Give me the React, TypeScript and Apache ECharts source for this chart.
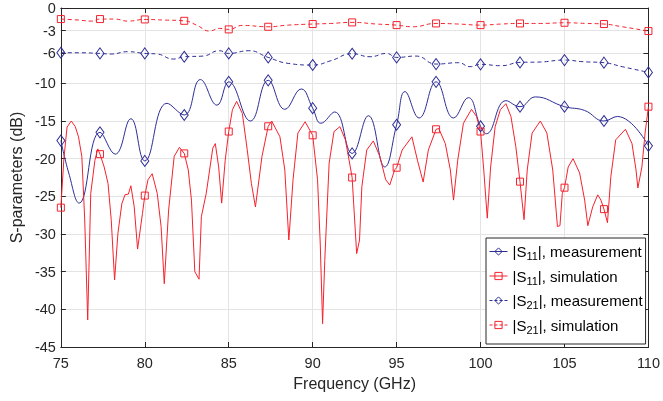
import React, { useEffect, useRef } from "react";
import * as echarts from "echarts";

const FONT = "'Liberation Sans', Arial, Helvetica, sans-serif";
const BLUE = "#2d2d96";
const RED = "#f5222d";
const AXIS = "#262626";
const GRIDC = "#e4e4e4";

const Y_TICKS = [0, -3, -6, -10, -15, -20, -25, -30, -35, -40, -45];
const MARKER_FREQS = [75, 77.33, 80, 82.35, 85, 87.35, 90, 92.35, 95, 97.35, 100, 102.35, 105, 107.35, 110];

const SERIES_NAMES = [
  "|S11|, measurement",
  "|S11|, simulation",
  "|S21|, measurement",
  "|S21|, simulation",
];

// |S11| measurement
const S11_MEAS_F = [75, 75.47, 76.09, 77.33, 78.24, 79.17, 80, 81.32, 82.35, 83.31, 84.3, 85, 86.29, 87.35, 88.34, 89.32, 90, 90.49, 91.31, 92.35, 93.32, 94.29, 95, 95.5, 96.34, 97.35, 98.39, 99.27, 100, 100.34, 101.51, 102.35, 103.27, 105, 106.2, 107.35, 108.15, 110];
const S11_MEAS_DB = [-17.6, -21.9, -25.9, -16.5, -19.4, -14.7, -20.3, -12.65, -14.2, -9.5, -12.9, -9.8, -15.0, -9.6, -13.45, -10.75, -13.3, -15.3, -13.8, -19.3, -14.3, -21.1, -15.5, -11.1, -14.6, -9.8, -14.6, -11.9, -15.7, -16.7, -12.3, -13.1, -11.8, -13.1, -13.6, -15.0, -14.4, -18.3];

// |S11| simulation
const S11_SIM_F = [75, 75.18, 75.37, 75.62, 75.86, 76.05, 76.25, 76.42, 76.6, 76.78, 77.03, 77.2, 77.33, 77.58, 77.81, 78.0, 78.2, 78.4, 78.63, 78.82, 79.02, 79.17, 79.37, 79.57, 79.86, 80, 80.19, 80.44, 80.74, 80.97, 81.16, 81.42, 81.75, 82.06, 82.35, 82.59, 82.78, 82.98, 83.23, 83.37, 83.66, 84.05, 84.2, 84.4, 84.58, 84.79, 85, 85.22, 85.47, 85.81, 86.1, 86.35, 86.59, 86.98, 87.35, 87.56, 88.05, 88.34, 88.58, 88.83, 89.12, 89.55, 90, 90.29, 90.45, 90.59, 90.72, 90.98, 91.27, 91.62, 91.95, 92.24, 92.35, 92.44, 92.62, 92.79, 92.93, 93.22, 93.61, 94.0, 94.35, 94.59, 94.88, 95, 95.33, 95.91, 96.24, 96.58, 96.89, 97.35, 97.51, 97.9, 98.2, 98.39, 98.64, 98.98, 99.46, 99.76, 100, 100.19, 100.4, 100.6, 100.87, 101.18, 101.51, 101.81, 102.1, 102.35, 102.59, 102.78, 103.07, 103.56, 103.95, 104.3, 104.58, 104.73, 104.87, 105, 105.22, 105.51, 105.9, 106.2, 106.39, 106.68, 106.98, 107.17, 107.35, 107.56, 107.76, 108.05, 108.63, 109.02, 109.26, 109.37, 109.61, 109.8, 110];
const S11_SIM_DB = [-26.5, -20.0, -15.8, -15.0, -15.75, -17.1, -19.7, -28.0, -41.4, -24.6, -20.2, -18.7, -19.4, -21.1, -23.3, -28.1, -36.1, -29.9, -26.0, -24.8, -24.7, -23.6, -26.4, -32.0, -27.3, -24.9, -22.8, -22.0, -24.6, -29.0, -36.6, -26.8, -19.7, -18.5, -19.3, -21.5, -25.5, -35.0, -36.0, -27.7, -24.6, -18.6, -18.0, -21.1, -25.9, -20.2, -16.4, -13.5, -12.4, -14.0, -18.8, -23.3, -26.4, -19.7, -15.7, -15.0, -17.1, -21.5, -30.8, -22.8, -16.6, -15.1, -16.9, -22.8, -31.2, -41.9, -33.5, -20.6, -16.4, -15.75, -17.5, -21.1, -22.5, -25.9, -32.6, -30.8, -23.7, -18.85, -17.65, -19.7, -22.8, -23.5, -21.5, -21.2, -18.85, -17.1, -20.2, -23.1, -18.85, -16.1, -16.0, -18.0, -21.5, -25.5, -20.2, -15.3, -13.45, -14.4, -16.4, -21.5, -27.9, -21.1, -15.75, -13.5, -12.7, -14.4, -18.4, -23.05, -28.1, -21.5, -16.6, -15.0, -16.6, -21.5, -29.0, -28.9, -24.6, -23.85, -21.1, -20.0, -21.9, -25.5, -28.9, -26.4, -24.8, -25.5, -26.7, -28.5, -22.4, -17.5, -16.1, -18.0, -21.5, -23.9, -21.1, -16.6, -13.1];

// |S21| measurement
const S21_MEAS_F = [75, 76.05, 77.33, 78.0, 78.98, 80, 80.74, 81.71, 82.35, 83.47, 84.44, 85, 86.2, 87.35, 88.54, 90, 91.08, 92.35, 93.42, 94.4, 95, 96.15, 97.35, 98.69, 99.37, 100, 101.22, 102.35, 103.56, 105, 106.1, 107.35, 108.44, 110];
const S21_MEAS_DB = [-5.94, -5.94, -6.03, -6.11, -5.8, -6.03, -6.11, -6.78, -6.47, -6.38, -5.67, -6.03, -5.67, -6.56, -7.35, -7.57, -7.0, -6.07, -6.47, -6.03, -6.56, -6.38, -7.44, -7.26, -7.79, -7.48, -7.66, -7.22, -7.17, -6.91, -7.13, -7.26, -7.79, -8.55];

// |S21| simulation
const S21_SIM_F = [75, 76.05, 76.83, 77.33, 78.2, 78.98, 80, 81.13, 82.35, 83.08, 83.86, 84.44, 85, 85.81, 87.35, 88.54, 90, 91.07, 92.35, 93.81, 95, 95.96, 97.35, 98.69, 100, 101.22, 102.35, 103.56, 105, 106.3, 107.35, 108.44, 110];
const S21_SIM_DB = [-1.47, -1.6, -1.74, -1.47, -1.47, -1.74, -1.52, -1.6, -1.7, -2.27, -3.06, -2.71, -2.84, -2.31, -2.49, -2.27, -2.13, -2.05, -1.91, -2.13, -2.27, -2.49, -2.05, -2.13, -2.27, -2.13, -2.05, -2.05, -1.96, -2.05, -2.13, -2.49, -3.06];

const LEGEND_RICH: Record<string, string> = {
  "|S11|, measurement": "{a||S}{sub|11}{a||, measurement}",
  "|S11|, simulation": "{a||S}{sub|11}{a||, simulation}",
  "|S21|, measurement": "{a||S}{sub|21}{a||, measurement}",
  "|S21|, simulation": "{a||S}{sub|21}{a||, simulation}",
};

const SERIES_COLORS = [BLUE, RED, BLUE, RED];
const SERIES_DASHED = [false, false, true, true];

function buildData(f: number[], v: number[]) {
  return f.map((x, i) => {
    const isMarker = MARKER_FREQS.some((m) => Math.abs(m - x) < 1e-6);
    return isMarker ? { value: [x, v[i]] } : { value: [x, v[i]], symbol: "none" };
  });
}

function makeSeries(name: string, f: number[], v: number[], color: string, symbol: string, symbolSize: any, dashed: boolean, smooth: any) {
  return {
    name,
    type: "line",
    xAxisIndex: 0,
    yAxisIndex: 0,
    data: buildData(f, v),
    smooth,
    showSymbol: true,
    showAllSymbol: true,
    symbol,
    symbolSize,
    silent: true,
    lineStyle: { color, width: 1, type: dashed ? [4, 3] : "solid" },
    itemStyle: { color: "rgba(255,255,255,0)", borderColor: color, borderWidth: 1 },
    emphasis: { disabled: true },
  };
}

export default function App() {
  const ref = useRef<HTMLDivElement>(null);
  useEffect(() => {
    if (!ref.current) return;
    const chart = echarts.init(ref.current, undefined, { renderer: "svg" });
    const axisLine = { show: true, onZero: false, lineStyle: { color: AXIS, width: 1 } };
    const option: any = {
      animation: false,
      textStyle: { fontFamily: FONT },
      grid: { left: 52, right: 13, top: 8, bottom: 54 },
      xAxis: [
        {
          type: "value", min: 75, max: 110, interval: 5, position: "bottom",
          axisLine,
          axisTick: { show: true, inside: true, length: 5, lineStyle: { color: AXIS } },
          axisLabel: { color: AXIS, fontSize: 14.5, margin: 8, fontFamily: FONT },
          splitLine: { show: true, lineStyle: { color: GRIDC, width: 1 } },
          name: "Frequency (GHz)", nameLocation: "middle", nameGap: 28,
          nameTextStyle: { color: AXIS, fontSize: 16, fontFamily: FONT },
        },
        {
          type: "value", min: 75, max: 110, interval: 5, position: "top",
          axisLine,
          axisTick: { show: true, inside: true, length: 5, lineStyle: { color: AXIS } },
          axisLabel: { show: false },
          splitLine: { show: false },
        },
      ],
      yAxis: [
        {
          type: "value", min: -45, max: 0, interval: 5, position: "left",
          axisLine,
          axisTick: { show: true, inside: true, length: 5, lineStyle: { color: AXIS }, customValues: Y_TICKS },
          axisLabel: { color: AXIS, fontSize: 14.5, margin: 5, fontFamily: FONT, customValues: Y_TICKS },
          splitLine: { show: true, lineStyle: { color: GRIDC, width: 1 } },
          name: "S-parameters (dB)", nameLocation: "middle", nameGap: 31,
          nameTextStyle: { color: AXIS, fontSize: 16, fontFamily: FONT },
        },
        {
          type: "value", min: -45, max: 0, interval: 5, position: "right",
          axisLine,
          axisTick: { show: true, inside: true, length: 5, lineStyle: { color: AXIS }, customValues: Y_TICKS },
          axisLabel: { show: false, customValues: Y_TICKS },
          splitLine: { show: false },
        },
      ],
      legend: {
        orient: "vertical", left: 486, top: 238,
        padding: [6, 3, 9, 3], itemGap: 7, itemWidth: 18, itemHeight: 9,
        backgroundColor: "#ffffff", borderColor: AXIS, borderWidth: 1, borderRadius: 0,
        selectedMode: false,
        itemStyle: { color: "rgba(255,255,255,0)", borderWidth: 1 },
        data: SERIES_NAMES.map((name, i) => ({
          name,
          itemStyle: { color: "rgba(255,255,255,0)", borderColor: SERIES_COLORS[i], borderWidth: 1 },
          lineStyle: { color: SERIES_COLORS[i], width: 1, type: SERIES_DASHED[i] ? [3, 2] : "solid" },
        })),
        formatter: (name: string) => LEGEND_RICH[name] || name,
        textStyle: {
          color: "#000", fontSize: 15, fontFamily: FONT,
          rich: {
            a: { fontSize: 15, lineHeight: 20, color: "#000", fontFamily: FONT },
            sub: { fontSize: 11, lineHeight: 7, verticalAlign: "bottom", color: "#000", fontFamily: FONT },
          },
        },
      },
      series: [
        makeSeries(SERIES_NAMES[0], S11_MEAS_F, S11_MEAS_DB, BLUE, "diamond", [8, 11], false, 0.45),
        makeSeries(SERIES_NAMES[1], S11_SIM_F, S11_SIM_DB, RED, "rect", 7, false, false),
        makeSeries(SERIES_NAMES[2], S21_MEAS_F, S21_MEAS_DB, BLUE, "diamond", [8, 11], true, 0.5),
        makeSeries(SERIES_NAMES[3], S21_SIM_F, S21_SIM_DB, RED, "rect", 7, true, 0.5),
      ],
    };
    chart.setOption(option);
    return () => chart.dispose();
  }, []);
  return <div ref={ref} style={{ position: "fixed", left: 0, top: 0, width: 663, height: 401 }} />;
}
